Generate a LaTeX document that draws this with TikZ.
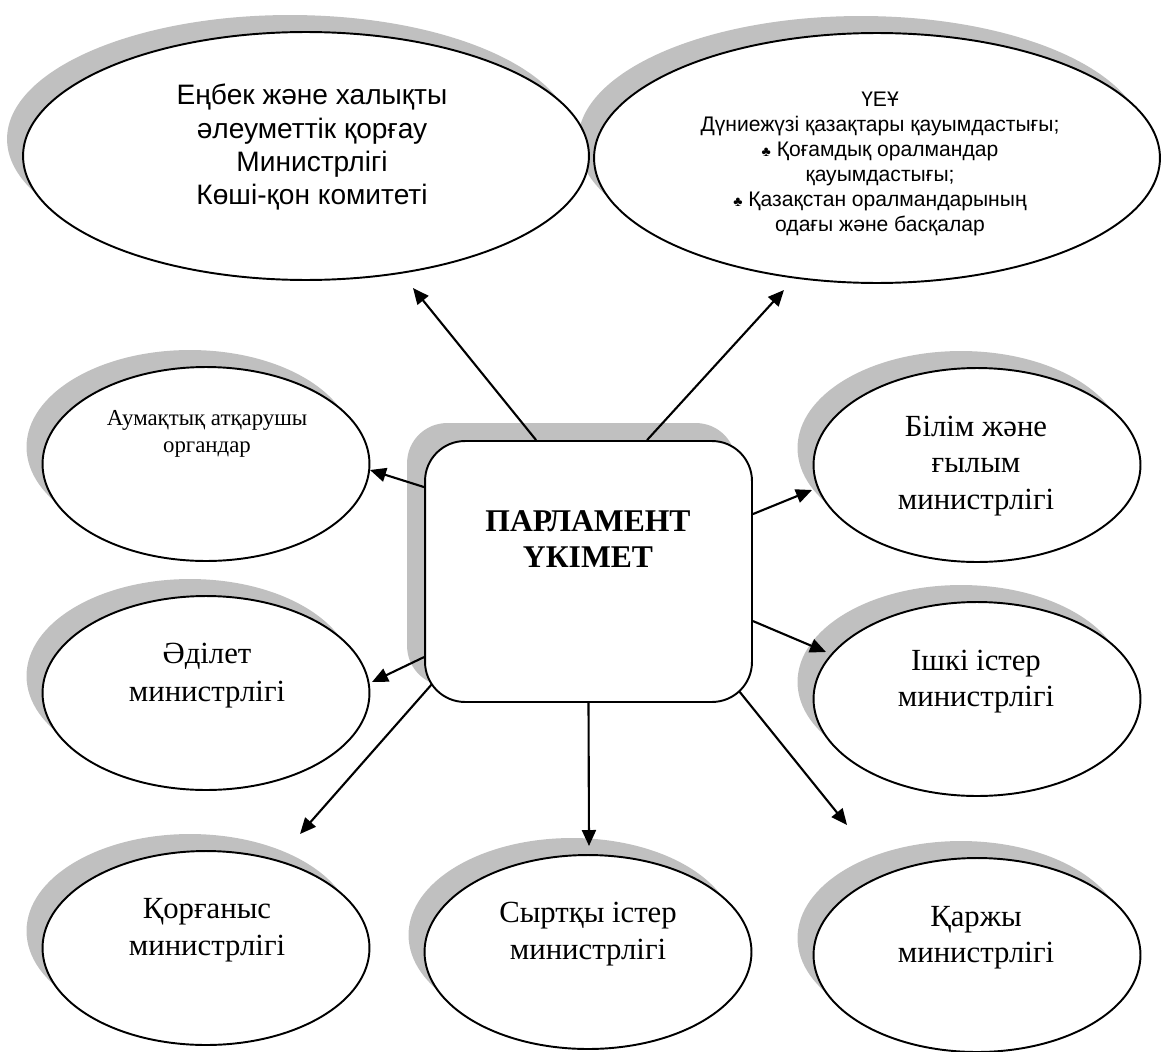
\documentclass[tikz,border=0pt]{standalone}
\usepackage{fontspec}
\setmainfont{Liberation Serif}
\newfontfamily\arialf{Liberation Sans}
\usetikzlibrary{shapes.geometric,arrows.meta,calc}
\definecolor{shadowgray}{RGB}{192,192,192}
\pgfdeclarelayer{shadowlayer}
\pgfsetlayers{shadowlayer,main}
\newcommand{\txtlines}[3]{{\fontsize{#1}{#2}\selectfont\begin{tabular}[t]{@{}c@{}}#3\end{tabular}}}
\newcommand{\mycl}{{\fontsize{8}{8}\selectfont ♣}}
\tikzset{
  ell/.style={ellipse, draw, line width=1.1pt, fill=white, inner sep=0pt},
  smallell/.style={ell, minimum width=6.54cm, minimum height=3.88cm},
  bigell/.style={ell, minimum width=11.32cm, minimum height=4.96cm},
  centbox/.style={rectangle, rounded corners=0.8cm, draw, line width=1.1pt, fill=white,
    inner sep=0pt, minimum width=6.54cm, minimum height=5.22cm},
  shadowfill/.style={fill=shadowgray, draw=none},
  arr/.style={line width=1.2pt, -{Triangle[length=0.32cm,width=0.28cm]}},
  lbl/.style={anchor=base, inner sep=0pt},
}
\begin{document}
\begin{tikzpicture}[x=0.02cm, y=-0.02cm]
\useasboundingbox (0,0) rectangle (1162,1051);
% big ellipses
\node[bigell, minimum height=5.0cm] (ngo) at (877,158) {};
\node[bigell] (enb) at (306,156) {};
% small ellipses
\node[smallell] (aum) at (206,464) {};
\node[smallell] (adl) at (206,693) {};
\node[smallell] (kor) at (206,948) {};
\node[smallell] (syr) at (588,952) {};
\node[smallell] (kar) at (977,955) {};
\node[smallell] (bil) at (977,465) {};
\node[smallell] (ish) at (977,699) {};
% central box
\node[centbox] (c) at (588.5,571.5) {};
% shadows (behind everything)
\begin{pgfonlayer}{shadowlayer}
  \fill[shadowfill] ($(ngo.center)+(-16,-17)$) ellipse [x radius=5.66cm, y radius=2.5cm];
  \fill[shadowfill] ($(enb.center)+(-16,-17)$) ellipse [x radius=5.66cm, y radius=2.48cm];
  \foreach \n in {aum,adl,kor,syr,kar,bil,ish}
    \fill[shadowfill] ($(\n.center)+(-16,-17)$) ellipse [x radius=3.27cm, y radius=1.94cm];
  \fill[shadowfill, rounded corners=0.8cm] ($(c.south west)+(-17,-17)$) rectangle ($(c.north east)+(-17,-17)$);
\end{pgfonlayer}
% texts
\node[lbl] (enbt) at (312,105) {\arialf\txtlines{16}{18.8}{Еңбек және халықты\\әлеуметтік қорғау\\Министрлігі\\Көші-қон комитеті}};
\node[lbl] (ngot) at (880,107) {\arialf\txtlines{12}{14.2}{ҮЕҰ\\Дүниежүзі қазақтары қауымдастығы;\\\mycl{} Қоғамдық оралмандар\\қауымдастығы;\\\mycl{} Қазақстан оралмандарының\\одағы және басқалар}};
\node[lbl] (aumt) at (207,425) {\txtlines{13}{15.4}{Аумақтық атқарушы\\органдар}};
\node[lbl] (ct) at (588,531) {\bfseries\txtlines{18}{21}{ПАРЛАМЕНТ\\ҮКІМЕТ}};
\node[lbl] (bilt) at (976,436) {\txtlines{17.5}{21}{Білім және\\ғылым\\министрлігі}};
\node[lbl] (adlt) at (207,663) {\txtlines{17.5}{21.8}{Әділет\\министрлігі}};
\node[lbl] (isht) at (976,670) {\txtlines{17.5}{21}{Ішкі істер\\министрлігі}};
\node[lbl] (kort) at (207,918) {\txtlines{17.5}{21.5}{Қорғаныс\\министрлігі}};
\node[lbl] (syrt) at (588,922) {\txtlines{17.5}{21.5}{Сыртқы істер\\министрлігі}};
\node[lbl] (kart) at (976,926) {\txtlines{17.5}{21}{Қаржы\\министрлігі}};
% arrow tips
\coordinate (t1) at (413,288);
\coordinate (t2) at (784,290);
\coordinate (t3) at (370,470);
\coordinate (t4) at (812,490);
\coordinate (t5) at (372,682);
\coordinate (t6) at (826,652);
\coordinate (t7) at (300,834);
\coordinate (t8) at (589,846);
\coordinate (t9) at (847,825);
% connectors
\draw[arr] ($(c.north west)+(112,0)$) -- (t1);
\draw[arr] ($(c.north west)+(223,0)$) -- (t2);
\draw[arr] ($(c.north west)+(0,47)$) -- (t3);
\draw[arr] ($(c.north east)+(0,74)$) -- (t4);
\draw[arr] ($(c.north west)+(0,217)$) -- (t5);
\draw[arr] ($(c.north east)+(0,181)$) -- (t6);
\draw[arr] ($(c.south west)+(8,-19)$) -- (t7);
\draw[arr] (c.south) -- (t8);
\draw[arr] ($(c.south east)+(-14,-12)$) -- (t9);
\end{tikzpicture}
\end{document}
